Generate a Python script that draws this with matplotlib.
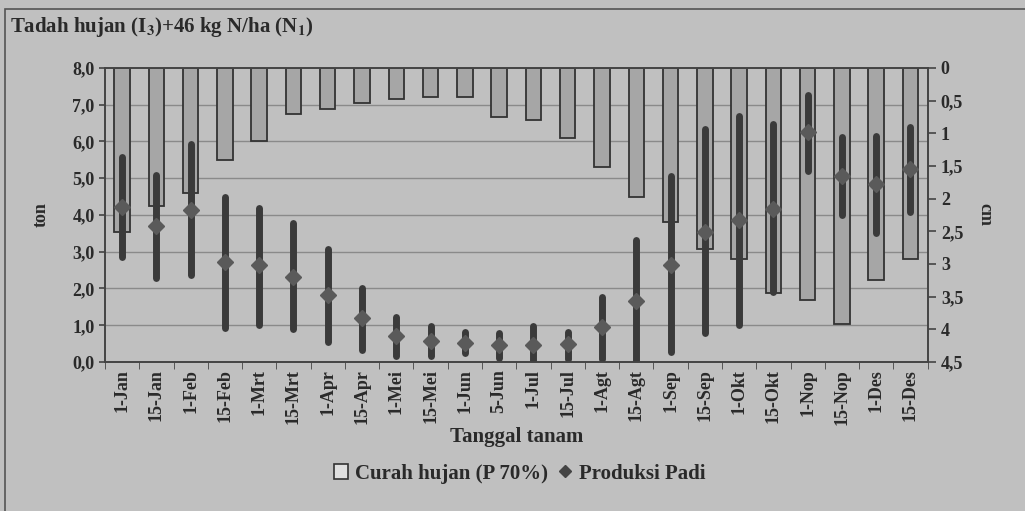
import numpy as np
import matplotlib
matplotlib.use("Agg")
import matplotlib.pyplot as plt
from matplotlib.ticker import FixedLocator, FuncFormatter
from matplotlib.patches import Patch, Rectangle
from matplotlib.lines import Line2D

plt.rcParams['font.family'] = ['Liberation Serif', 'DejaVu Serif']
plt.rcParams['font.weight'] = 'bold'
plt.rcParams['axes.labelweight'] = 'bold'
plt.rcParams['mathtext.fontset'] = 'stix'

# data
tanggal = ['1-Jan', '15-Jan', '1-Feb', '15-Feb', '1-Mrt', '15-Mrt', '1-Apr', '15-Apr',
           '1-Mei', '15-Mei', '1-Jun', '5-Jun', '1-Jul', '15-Jul', '1-Agt', '15-Agt',
           '1-Sep', '15-Sep', '1-Okt', '15-Okt', '1-Nop', '15-Nop', '1-Des', '15-Des']
curah_hujan = [2.51, 2.11, 1.91, 1.41, 1.12, 0.71, 0.63, 0.54, 0.47, 0.45, 0.45, 0.75,
               0.80, 1.07, 1.52, 1.97, 2.35, 2.77, 2.93, 3.45, 3.55, 3.92, 3.25, 2.93]   # cm
produksi = [4.23, 3.70, 4.13, 2.72, 2.63, 2.31, 1.82, 1.19, 0.71, 0.58, 0.51, 0.45,
            0.46, 0.48, 0.96, 1.67, 2.65, 3.54, 3.86, 4.17, 6.27, 5.07, 4.85, 5.26]  # ton
prod_max = [5.57, 5.09, 5.93, 4.48, 4.19, 3.77, 3.07, 2.02, 1.22, 0.98, 0.81, 0.78,
            0.99, 0.81, 1.77, 3.33, 5.05, 6.34, 6.68, 6.48, 7.27, 6.12, 6.14, 6.39]
prod_min = [2.85, 2.29, 2.36, 0.93, 1.02, 0.89, 0.55, 0.33, 0.16, 0.16, 0.24, 0.10,
            0.00, 0.07, 0.07, 0.00, 0.27, 0.80, 1.00, 1.91, 5.19, 3.99, 3.51, 4.08]

bg = '#c0c0c0'
dark = '#3a3a3a'
txt = '#2a2a2a'

fig = plt.figure(figsize=(10.25, 5.11), dpi=100, facecolor=bg)
fig.patches.append(Rectangle((0.005, -0.01), 1.0, 0.993, transform=fig.transFigure,
                             fill=False, edgecolor='#555555', linewidth=1.2))

ax = fig.add_axes([0.1024, 0.2916, 0.8026, 0.5754])
ax2 = ax.twinx()
ax.set_zorder(ax2.get_zorder() + 1)
ax.patch.set_visible(False)
ax2.patch.set_facecolor('white')

x = np.arange(len(tanggal))

# rainfall bars hanging from top (right axis, inverted)
ax2.bar(x, curah_hujan, width=0.45, color='#a6a6a6', edgecolor='#333333', linewidth=1.3, zorder=2)
ax2.set_ylim(4.5, 0)
ax2.yaxis.set_major_locator(FixedLocator(np.arange(0, 4.51, 0.5)))
ax2.yaxis.set_major_formatter(FuncFormatter(lambda v, p: f"{v:g}".replace('.', ',')))
ax2.yaxis.set_minor_locator(FixedLocator(np.linspace(0, 4.5, 9)))
ax2.grid(which='minor', axis='y', color='#8a8a8a', linewidth=1.0)
ax2.set_axisbelow(True)
ax2.tick_params(axis='y', which='minor', length=0)
ax2.tick_params(axis='y', which='major', length=6, width=1.2, color='#444444',
                labelsize=13, labelcolor=txt)
ax2.set_ylabel('cm', fontsize=13, rotation=270, labelpad=22, color=txt)

# rice production with ranges (left axis)
ax.vlines(x, prod_min, prod_max, color=dark, linewidth=5, capstyle='round')
ax.plot(x, produksi, linestyle='none', marker='D', markersize=8, color='#5a5a5a')
ax.set_ylim(0, 8)
ax.set_xlim(-0.5, len(tanggal) - 0.5)
ax.yaxis.set_major_locator(FixedLocator(np.arange(0, 8.1, 1)))
ax.yaxis.set_major_formatter(FuncFormatter(lambda v, p: f"{v:.1f}".replace('.', ',')))
ax.set_xticks(x)
ax.set_xticklabels(tanggal, rotation=90, fontsize=13, color=txt)
ax.tick_params(axis='y', length=4, width=1.2, color='#444444', labelsize=13, labelcolor=txt)
ax.set_xticks(np.arange(-0.5, len(tanggal)), minor=True)
ax.tick_params(axis='x', which='major', length=0, pad=5)
ax.tick_params(axis='x', which='minor', length=5, color='#444444')
ax.set_ylabel('ton', fontsize=13, labelpad=16, color=txt)
ax.set_xlabel('Tanggal tanam', fontsize=15, labelpad=2, color=txt)

for a in (ax, ax2):
    for s in a.spines.values():
        s.set_color('#444444')
        s.set_linewidth(1.2)

fig.text(0.01, 0.948, r'Tadah hujan (I$_\mathbf{3}$)+46 kg N/ha (N$_\mathbf{1}$)', fontsize=15,
         ha='left', va='center', color=txt)

handles = [Patch(facecolor='#e0e0e0', edgecolor='#333333', linewidth=1.2),
           Line2D([], [], linestyle='none', marker='D', markersize=6, color='#444444')]
fig.legend(handles, ['Curah hujan (P 70%)', 'Produksi Padi'], loc='center',
           bbox_to_anchor=(0.507, 0.073), ncol=2, frameon=False, fontsize=15,
           handlelength=0.7, handleheight=0.7, handletextpad=0.3, columnspacing=0.5,
           labelcolor=txt)

fig.savefig('out.png', dpi=100, facecolor=bg)
